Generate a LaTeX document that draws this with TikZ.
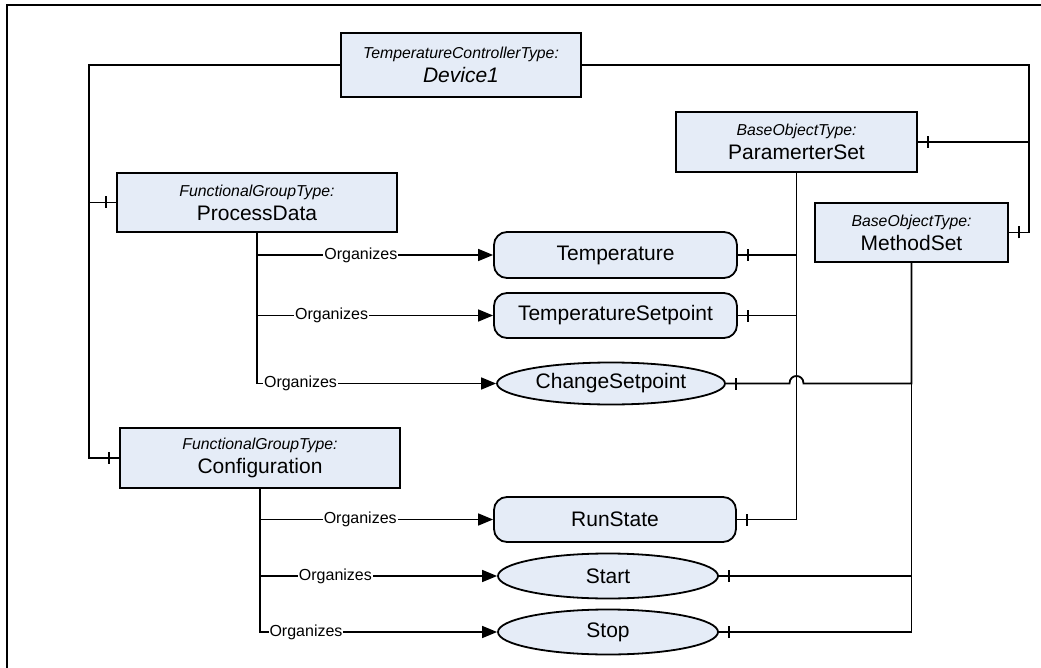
\documentclass[tikz,border=0pt]{standalone}
\usepackage{fontspec}
\setmainfont{Liberation Sans}
\usetikzlibrary{arrows.meta,shapes.geometric,decorations.markings,calc}
\definecolor{boxfill}{RGB}{229,236,247}
\newcommand\tsm[1]{{\fontsize{15.8}{16}\selectfont\itshape #1}}
\tikzset{
  box/.style={draw,line width=1.8pt,fill=boxfill,inner sep=0pt,align=center,font=\fontsize{21}{24}\selectfont},
  rbox/.style={draw,line width=1.8pt,fill=boxfill,rounded corners=13pt,inner sep=0pt,font=\fontsize{21}{24}\selectfont},
  ebox/.style={ellipse,draw,line width=1.8pt,fill=boxfill,inner sep=0pt,font=\fontsize{21}{24}\selectfont},
  conn/.style={line width=1.8pt},
  barend/.style={postaction={decorate},decoration={markings,mark=at position 10pt with {\draw[line width=1.6pt] (0,-6pt) -- (0,6pt);}}},
  org/.style={line width=1.5pt,-{Triangle[length=15pt,width=12pt]}},
  orglab/.style={fill=white,inner sep=1pt,font=\fontsize{16}{19}\selectfont}
}
\begin{document}
\begin{tikzpicture}[x=1pt,y=-1pt]
\useasboundingbox (0,0) rectangle (1041,668);
\draw[line width=2pt] (7,668) -- (7,5) -- (1041,5);

\node[box,minimum width=240pt,minimum height=64pt] (dev) at (461,65) {\tsm{TemperatureControllerType:}\\\itshape Device1};
\node[box,minimum width=241pt,minimum height=60pt] (ps) at (796.5,142) {\tsm{BaseObjectType:}\\ParamerterSet};
\node[box,minimum width=193pt,minimum height=59pt] (ms) at (911.5,232.5) {\tsm{BaseObjectType:}\\MethodSet};
\node[box,minimum width=280pt,minimum height=59pt] (pd) at (257,202.5) {\tsm{FunctionalGroupType:}\\ProcessData};
\node[box,minimum width=280pt,minimum height=60pt] (cf) at (260,458) {\tsm{FunctionalGroupType:}\\Configuration};

\node[rbox,minimum width=243pt,minimum height=46pt] (tmp) at (615.5,255) {Temperature};
\node[rbox,minimum width=243pt,minimum height=45pt] (tsp) at (615.5,315.5) {TemperatureSetpoint};
\node[ebox,minimum width=228pt,minimum height=42pt] (csp) at (611,383.5) {ChangeSetpoint};
\node[rbox,minimum width=242pt,minimum height=45pt] (rs) at (615,519.5) {RunState};
\node[ebox,minimum width=220pt,minimum height=45pt] (st) at (608,576) {Start};
\node[ebox,minimum width=220pt,minimum height=45pt] (sp) at (608,632) {Stop};

\coordinate (L) at (89,0);
\coordinate (R) at (1029,0);

\draw[conn,barend] (cf.west) -| (L |- dev.west) -- (dev.west);
\draw[conn,barend] (pd.west) -- (L |- pd.west);
\draw[conn,barend] (ms.east) -| (R |- dev.east) -- (dev.east);
\draw[conn,barend] (ps.east) -- (R |- ps.east);
\draw[conn,barend] (tmp.east) -| (ps.south);
\draw[conn,barend] (tsp.east) -| (ps.south);
\draw[conn,barend] (rs.east) -| (ps.south);
\draw[conn,barend] (st.east) -| (ms.south);
\draw[conn,barend] (sp.east) -| (ms.south);
\draw[conn,barend] (csp.east) -- ($(ps.south |- csp.east)+(-7,0)$) .. controls +(0,-10) and +(0,-10) .. ($(ps.south |- csp.east)+(7,0)$) -| (ms.south);

\draw[org] (pd.south) |- node[orglab,pos=.72]{Organizes} (tmp.west);
\draw[org] (pd.south) |- node[orglab,pos=.658]{Organizes} (tsp.west);
\draw[org] (pd.south) |- node[orglab,pos=.591]{Organizes} (csp.west);
\draw[org] (cf.south) |- node[orglab,pos=.715]{Organizes} (rs.west);
\draw[org] (cf.south) |- node[orglab,pos=.659]{Organizes} (st.west);
\draw[org] (cf.south) |- node[orglab,pos=.597]{Organizes} (sp.west);
\end{tikzpicture}
\end{document}
